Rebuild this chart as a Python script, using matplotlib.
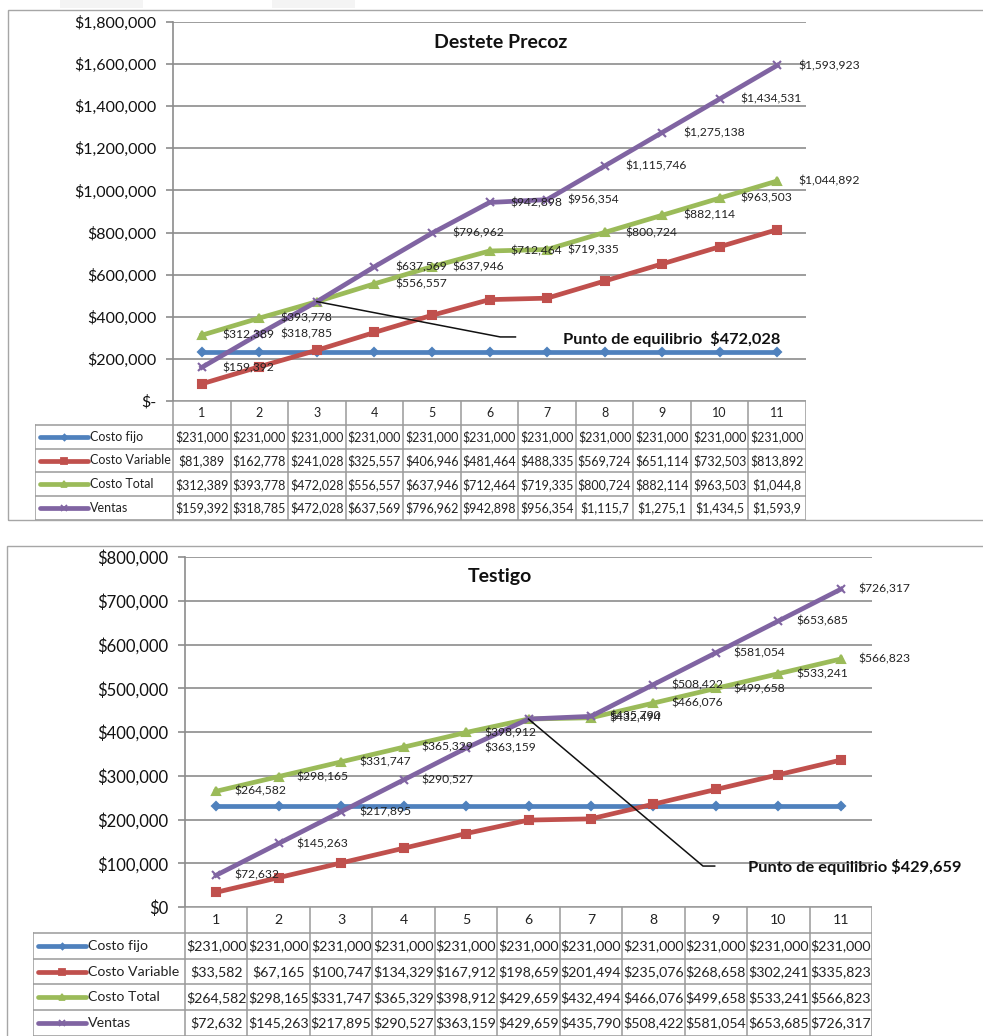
import matplotlib
matplotlib.use("Agg")
import matplotlib.pyplot as plt
from matplotlib.patches import Rectangle
from matplotlib.ticker import FuncFormatter

plt.rcParams['font.family'] = ['Lato', 'DejaVu Sans']

W, H = 983, 1036

periodos = list(range(1, 12))
series = ["Costo fijo", "Costo Variable", "Costo Total", "Ventas"]

# Destete Precoz
dp_fijo = [231000] * 11
dp_variable = [81389, 162778, 241028, 325557, 406946, 481464, 488335, 569724, 651114, 732503, 813892]
dp_total = [312389, 393778, 472028, 556557, 637946, 712464, 719335, 800724, 882114, 963503, 1044892]
dp_ventas = [159392, 318785, 472028, 637569, 796962, 942898, 956354, 1115746, 1275138, 1434531, 1593923]
dp_equilibrio = 472028

# Testigo
t_fijo = [231000] * 11
t_variable = [33582, 67165, 100747, 134329, 167912, 198659, 201494, 235076, 268658, 302241, 335823]
t_total = [264582, 298165, 331747, 365329, 398912, 429659, 432494, 466076, 499658, 533241, 566823]
t_ventas = [72632, 145263, 217895, 290527, 363159, 429659, 435790, 508422, 581054, 653685, 726317]
t_equilibrio = 429659

colores = ["#4F81BD", "#C0504D", "#9BBB59", "#8064A2"]
marcadores = ["D", "s", "^", "x"]
tamanos = [4, 6, 6, 6]
GRIS = "#8c8c8c"


def caja(l, t, r, b):
    # pixel box -> figure fraction
    return [l / W, 1 - b / H, (r - l) / W, (b - t) / H]


def dinero(v):
    return "${:,.0f}".format(v)


def grafico(fig, l, t, r, b, tb, leg_l, datos, ymax, paso, cero, titulo, pos_titulo,
            oculto, equilibrio, idx_eq, codo, pos_texto, texto_eq,
            fs_tick, fs_lab, fs_tabla, off_lab, corta):
    ax = fig.add_axes(caja(l, t, r, b))
    for i, vals in enumerate(datos):
        ax.plot(periodos, vals, color=colores[i], lw=3.4, marker=marcadores[i],
                ms=tamanos[i], mew=1.5, zorder=3 + i)
    # etiquetas de datos a la derecha de cada punto (Costo Total y Ventas)
    for i in (2, 3):
        for k, v in enumerate(datos[i]):
            if k == oculto:
                continue
            ax.annotate(dinero(v), (periodos[k], v), xytext=(off_lab, 0),
                        textcoords="offset points", ha="left", va="center",
                        fontsize=fs_lab, color="#222222", zorder=10)
    ax.set_xlim(0.5, 11.5)
    ax.set_ylim(0, ymax)
    ax.set_yticks(range(0, ymax + 1, paso))
    ax.yaxis.set_major_formatter(FuncFormatter(lambda v, p: cero if v == 0 else dinero(v)))
    ax.tick_params(axis="y", length=5, width=1.2, color=GRIS, pad=7, labelsize=fs_tick,
                   labelcolor="#111111")
    ax.set_xticks([])
    ax.grid(axis="y", color=GRIS, lw=1.2)
    ax.set_axisbelow(True)
    for s in ("top", "right", "bottom"):
        ax.spines[s].set_visible(False)
    ax.spines["left"].set_color(GRIS)
    ax.spines["left"].set_linewidth(1.2)
    ax.text(pos_titulo[0], pos_titulo[1], titulo, transform=ax.transAxes, ha="center",
            va="center", fontsize=14, fontweight="bold", color="#111111")

    # punto de equilibrio
    x0, y0 = periodos[idx_eq], equilibrio
    tr = ax.transAxes
    xa, ya = ax.transData.inverted().transform(tr.transform(codo[:2]))
    xb, _ = ax.transData.inverted().transform(tr.transform((codo[2], codo[1])))
    ax.plot([x0, xa, xb], [y0, ya, ya], color="#111111", lw=1.1, zorder=9, clip_on=False)
    ax.text(pos_texto[0], pos_texto[1], texto_eq, transform=tr, ha="left", va="center",
            fontsize=11.8, fontweight="bold", color="#111111", clip_on=False)

    # tabla de datos debajo del grafico
    cw = (r - l) / 11.0
    x_izq = 0.5 - (l - leg_l) / cw
    at = fig.add_axes(caja(leg_l, b, r, tb))
    at.set_xlim(x_izq, 11.5)
    at.set_ylim(5, 0)
    at.axis("off")
    lc = dict(color="#9a9a9a", lw=1.1)
    for k in range(12):
        at.plot([0.5 + k, 0.5 + k], [0, 5], **lc)
    at.plot([x_izq, x_izq], [1, 5], **lc)
    at.plot([0.5, 11.5], [0, 0], **lc)
    for f in range(1, 6):
        at.plot([x_izq, 11.5], [f, f], **lc)
    for k in periodos:
        at.text(k, 0.5, str(k), ha="center", va="center", fontsize=fs_tabla, color="#222222")
    for i, vals in enumerate(datos):
        yf = i + 1.5
        k0 = x_izq + 5 / cw
        k1 = x_izq + 53 / cw
        at.plot([k0, k1], [yf, yf], color=colores[i], lw=3.4, solid_capstyle="round")
        at.plot([(k0 + k1) / 2], [yf], color=colores[i], marker=marcadores[i],
                ms=tamanos[i] - 1, mew=1.3)
        at.text(k1 + 2 / cw, yf, series[i], ha="left", va="center",
                fontsize=fs_tabla, color="#222222")
        for k, v in zip(periodos, vals):
            at.text(k, yf, dinero(v)[:corta], ha="center", va="center",
                    fontsize=fs_tabla, color="#222222")
    return ax


fig = plt.figure(figsize=(W / 100, H / 100), dpi=100)
fig.patch.set_facecolor("white")

# marcos de los graficos
fig.patches.append(Rectangle((8 / W, 1 - 520 / H), 990 / W, 510 / H, transform=fig.transFigure,
                             fill=False, edgecolor="#a6a6a6", lw=1.0))
fig.patches.append(Rectangle((7 / W, 1 - 1050 / H), 990 / W, 504 / H, transform=fig.transFigure,
                             fill=False, edgecolor="#a6a6a6", lw=1.0))
for xl in (60, 272):
    fig.patches.append(Rectangle((xl / W, 1 - 8 / H), 83 / W, 8 / H, transform=fig.transFigure,
                                 facecolor="#f4f4f4", edgecolor="none"))

grafico(fig, 173, 22, 806, 401, 520, 35,
        [dp_fijo, dp_variable, dp_total, dp_ventas], 1800000, 200000, "$-",
        "Destete Precoz", (0.518, 0.947), 2, dp_equilibrio, 2,
        (0.517, 0.169, 0.541), (0.616, 0.164),
        "Punto de equilibrio  " + dinero(dp_equilibrio),
        11.5, 8.7, 9.0, 15, 8)

grafico(fig, 185, 557, 872, 907, 1036, 33,
        [t_fijo, t_variable, t_total, t_ventas], 800000, 100000, "$0",
        "Testigo", (0.459, 0.943), 5, t_equilibrio, 5,
        (0.754, 0.117, 0.771), (0.820, 0.114),
        "Punto de equilibrio " + dinero(t_equilibrio),
        12, 8.7, 10.2, 13, 12)

fig.savefig("out.png", dpi=100)
